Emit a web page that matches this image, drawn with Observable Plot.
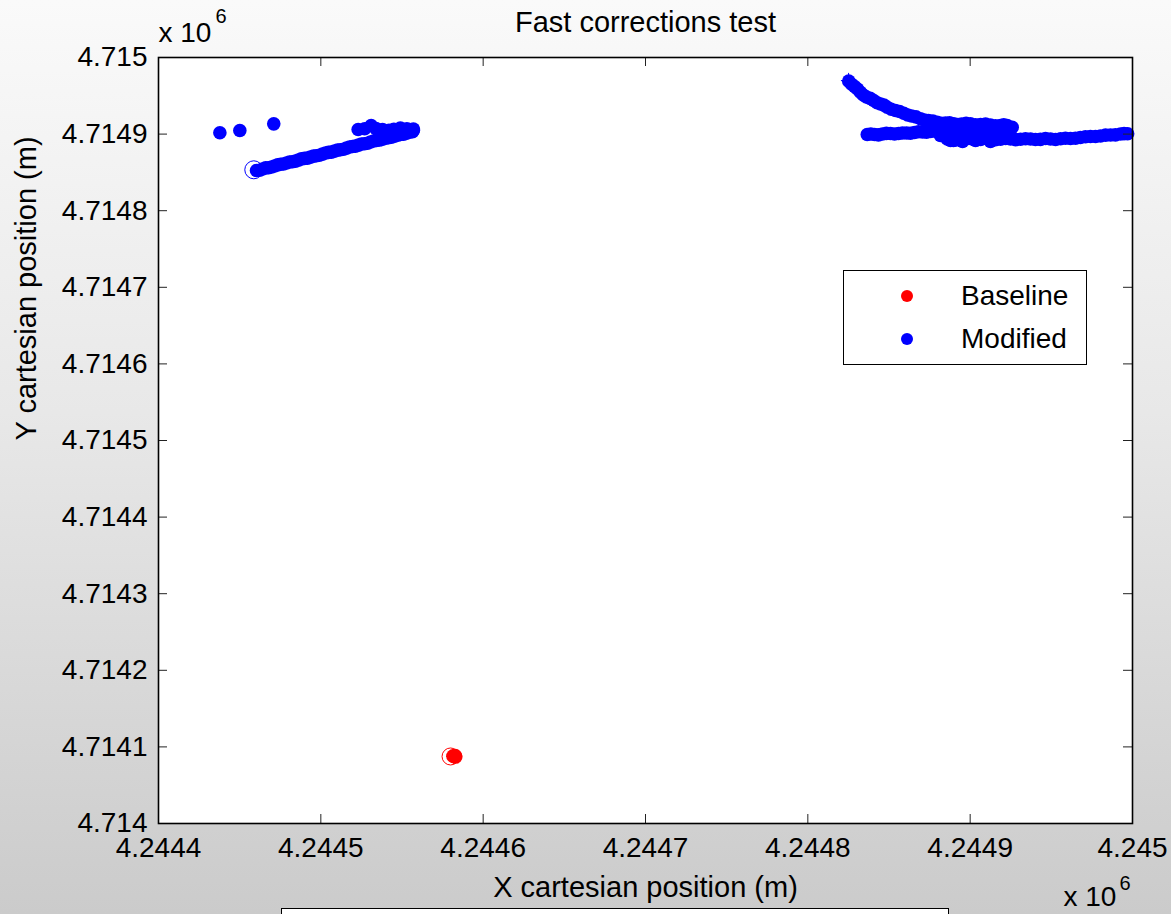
<!DOCTYPE html>
<html>
<head>
<meta charset="utf-8">
<script src="https://cdn.jsdelivr.net/npm/d3@7"></script>
<script src="https://cdn.jsdelivr.net/npm/@observablehq/plot@0.6"></script>
<style>
  html, body { margin: 0; padding: 0; overflow: hidden; }
  #wrap { position: relative; width: 1171px; height: 914px; overflow: hidden;
    background: linear-gradient(to bottom, #fafafa 0%, #e8e8e8 45%, #cbcbcb 100%);
    font-family: "Liberation Sans", Arial, Helvetica, sans-serif; }
  #legend { position: absolute; left: 843px; top: 270px; width: 242px; height: 93px;
    background: white; border: 1px solid black; }
  .lg-dot { position: absolute; width: 12px; height: 12px; border-radius: 50%; }
  .lg-txt { position: absolute; font-size: 28px; color: black; line-height: 1; }
  #bottombox { position: absolute; left: 281px; top: 908px; width: 666px; height: 30px;
    background: white; border: 1.5px solid black; }
</style>
</head>
<body>
<div id="wrap"></div>
<script>
// ---- Data (meters, ECEF cartesian) ----
const title = "Fast corrections test";
const xLabel = "X cartesian position (m)";
const yLabel = "Y cartesian position (m)";
const xTicks = [4244400, 4244500, 4244600, 4244700, 4244800, 4244900, 4245000];
const yTicks = [4714000, 4714100, 4714200, 4714300, 4714400, 4714500, 4714600, 4714700, 4714800, 4714900, 4715000];
const seriesNames = ["Baseline", "Modified"];
const seriesColors = ["#ff0000", "#0000ff"];

// Baseline (red) fixes
const baselinePoints = [
  [4244582.3, 4714087.5], [4244583.0, 4714087.0], [4244581.5, 4714088.0], [4244582.8, 4714088.3]
];
const baselineStart = [[4244579.9, 4714087.5]];
const baselineEnd = [[4244581.9, 4714087.5]];

// Modified (blue) fixes: west cluster
const modifiedIsolated = [
  [4244437.8, 4714901.7], [4244450.1, 4714904.7], [4244471.0, 4714913.4]
];
const modifiedWestTrail = [
  [4244460.4, 4714852.5], [4244464.1, 4714854.4], [4244467.8, 4714856.1], [4244471.5, 4714858.3],
  [4244475.2, 4714860.6], [4244478.9, 4714862.3], [4244482.5, 4714864.0], [4244486.2, 4714866.1],
  [4244489.9, 4714868.3], [4244493.6, 4714870.0], [4244497.3, 4714871.7], [4244501.0, 4714873.9],
  [4244504.7, 4714876.1], [4244508.4, 4714877.8], [4244512.1, 4714879.5], [4244515.8, 4714881.7],
  [4244519.5, 4714883.9], [4244523.2, 4714885.6], [4244526.9, 4714887.4], [4244530.6, 4714889.6],
  [4244534.3, 4714891.8], [4244538.0, 4714893.5], [4244541.7, 4714895.2], [4244545.4, 4714897.3],
  [4244549.1, 4714899.6], [4244552.8, 4714901.2], [4244556.5, 4714903.1], [4244557.0, 4714906.5],
  [4244462.3, 4714852.9], [4244466.0, 4714855.9], [4244469.7, 4714857.0], [4244473.4, 4714859.8],
  [4244477.0, 4714861.0], [4244480.7, 4714863.6], [4244484.4, 4714864.7], [4244488.0, 4714867.6],
  [4244491.8, 4714868.7], [4244495.5, 4714871.3], [4244499.1, 4714872.4], [4244502.9, 4714875.3],
  [4244506.5, 4714876.5], [4244510.3, 4714879.1], [4244514.0, 4714880.2], [4244517.7, 4714883.1],
  [4244521.3, 4714884.3], [4244525.0, 4714887.0], [4244528.8, 4714888.0], [4244532.5, 4714891.0],
  [4244536.1, 4714892.2], [4244539.9, 4714894.8], [4244543.5, 4714895.9], [4244547.3, 4714898.7],
  [4244551.0, 4714900.0], [4244554.6, 4714902.6]
];
const modifiedWestUpper = [
  [4244523.0, 4714906.0], [4244527.0, 4714907.0], [4244531.0, 4714911.0], [4244534.0, 4714907.2],
  [4244538.0, 4714906.0], [4244542.0, 4714905.1], [4244545.0, 4714906.2], [4244549.0, 4714908.0],
  [4244553.0, 4714907.0], [4244557.0, 4714905.0]
];
const modifiedWestStart = [[4244458.7, 4714853.4]];

// Modified (blue) fixes: east cluster
const modifiedEastCurve = [
  [4244825.2, 4714969.1], [4244828.8, 4714962.1], [4244832.4, 4714954.7], [4244836.1, 4714948.4],
  [4244840.6, 4714943.9], [4244844.8, 4714939.3], [4244848.9, 4714935.1], [4244854.0, 4714930.8],
  [4244859.1, 4714927.3], [4244863.9, 4714923.6], [4244869.4, 4714920.0], [4244874.3, 4714917.8],
  [4244879.7, 4714915.5], [4244884.8, 4714914.5], [4244889.9, 4714913.5], [4244894.7, 4714913.2],
  [4244900.2, 4714913.5], [4244906.4, 4714912.5], [4244912.5, 4714911.9], [4244918.7, 4714911.2],
  [4244922.8, 4714911.2],
  [4244827.0, 4714965.0], [4244830.6, 4714958.9], [4244834.2, 4714951.0], [4244838.4, 4714946.6],
  [4244842.7, 4714941.0], [4244846.9, 4714937.9], [4244851.4, 4714932.5], [4244856.5, 4714929.5],
  [4244861.5, 4714925.0], [4244866.6, 4714922.5], [4244871.8, 4714918.4], [4244877.0, 4714917.0],
  [4244882.2, 4714914.2], [4244887.3, 4714914.6], [4244892.3, 4714912.4], [4244897.5, 4714914.0],
  [4244903.3, 4714912.0], [4244909.5, 4714913.0], [4244915.6, 4714910.8], [4244920.7, 4714912.2]
];
const modifiedEastUpperBand = [
  [4244836.6, 4714899.5], [4244841.1, 4714899.5], [4244846.0, 4714900.1], [4244850.9, 4714900.8],
  [4244855.9, 4714900.8], [4244860.8, 4714901.4], [4244865.7, 4714902.1], [4244870.6, 4714902.7],
  [4244875.6, 4714903.4], [4244880.5, 4714904.7],
  [4244838.8, 4714900.2], [4244843.5, 4714899.0], [4244848.4, 4714901.0], [4244853.4, 4714900.2],
  [4244858.3, 4714901.5], [4244863.2, 4714901.2], [4244868.1, 4714903.0], [4244873.1, 4714902.4],
  [4244878.0, 4714904.2]
];
const modifiedEastKnot = [
  [4244887.9, 4714907.3], [4244894.1, 4714909.9], [4244903.3, 4714907.3], [4244912.5, 4714908.6],
  [4244918.7, 4714906.0], [4244923.6, 4714907.3], [4244885.4, 4714899.5], [4244891.0, 4714896.9],
  [4244897.1, 4714899.5], [4244908.0, 4714903.0], [4244915.0, 4714902.0], [4244921.0, 4714904.0],
  [4244900.0, 4714903.0], [4244889.7, 4714891.6], [4244925.9, 4714909.0],
  [4244884.8, 4714911.2], [4244891.0, 4714904.7], [4244897.1, 4714907.3], [4244903.3, 4714900.8],
  [4244909.5, 4714903.4], [4244915.6, 4714900.8], [4244921.8, 4714903.4], [4244881.7, 4714898.2],
  [4244887.9, 4714891.6], [4244895.3, 4714890.3], [4244903.3, 4714891.6], [4244912.5, 4714890.3],
  [4244918.7, 4714896.9], [4244924.9, 4714906.0]
];
const modifiedEastLowerBand = [
  [4244885.9, 4714893.6], [4244891.0, 4714892.3], [4244895.9, 4714893.1], [4244901.4, 4714893.6],
  [4244906.4, 4714893.0], [4244912.5, 4714893.6], [4244918.7, 4714893.2], [4244924.9, 4714893.6],
  [4244931.0, 4714893.3], [4244937.2, 4714893.6], [4244943.3, 4714893.1], [4244949.5, 4714893.6],
  [4244955.7, 4714893.9], [4244961.8, 4714894.3], [4244967.9, 4714895.6], [4244974.1, 4714896.9],
  [4244980.3, 4714897.5], [4244986.5, 4714898.8], [4244992.6, 4714900.1], [4244997.0, 4714900.5],
  [4244888.5, 4714894.5], [4244893.4, 4714892.8], [4244898.6, 4714894.2], [4244903.9, 4714892.6],
  [4244909.5, 4714894.3], [4244915.6, 4714892.7], [4244921.8, 4714894.2], [4244928.0, 4714892.8],
  [4244934.1, 4714894.0], [4244940.2, 4714892.9], [4244946.4, 4714894.2], [4244952.6, 4714893.0],
  [4244958.7, 4714894.5], [4244964.9, 4714894.6], [4244971.0, 4714896.6], [4244977.2, 4714896.8],
  [4244983.4, 4714898.6], [4244989.5, 4714899.0], [4244994.8, 4714900.6]
];
const modifiedEastEnd = [[4244825.1, 4714969.9]];

// ---- Layout ----
const W = 1171, H = 914;
const mL = 158, mR = 39, mT = 57, mB = 91;
const plotW = W - mL - mR, plotH = H - mT - mB;
const tickLen = 9;
const FONT = "'Liberation Sans', Arial, Helvetica, sans-serif";
const fmt = d => String(+(d / 1e6).toFixed(4));

const modifiedAll = [...modifiedIsolated, ...modifiedWestTrail, ...modifiedWestUpper,
  ...modifiedEastCurve, ...modifiedEastUpperBand, ...modifiedEastKnot, ...modifiedEastLowerBand];

const chart = Plot.plot({
  width: W, height: H,
  marginLeft: mL, marginRight: mR, marginTop: mT, marginBottom: mB,
  style: { background: "transparent", fontFamily: FONT, fontSize: "28px", color: "black", overflow: "visible" },
  x: { domain: [4244400, 4245000], label: null },
  y: { domain: [4714000, 4715000], label: null },
  marks: [
    Plot.frame({ fill: "white", stroke: null }),
    // Baseline
    Plot.dot(baselinePoints, { x: d => d[0], y: d => d[1], r: 7, fill: seriesColors[0], stroke: null }),
    Plot.dot(baselineStart, { x: d => d[0], y: d => d[1], r: 8.5, stroke: seriesColors[0], strokeWidth: 1, fill: "none" }),
    Plot.dot(baselineEnd, { x: d => d[0], y: d => d[1], r: 5, symbol: "plus", stroke: seriesColors[0], strokeWidth: 1, fill: "none" }),
    // Modified
    Plot.dot(modifiedAll, { x: d => d[0], y: d => d[1], r: 6.8, fill: seriesColors[1], stroke: null }),
    Plot.dot(modifiedWestStart, { x: d => d[0], y: d => d[1], r: 9, stroke: seriesColors[1], strokeWidth: 1, fill: "none" }),
    Plot.dot(modifiedEastEnd, { x: d => d[0], y: d => d[1], r: 5, symbol: "plus", stroke: seriesColors[1], strokeWidth: 1, fill: "none" }),
    // Inward ticks on all four sides
    Plot.tickX(xTicks, { x: d => d, insetTop: plotH - tickLen, stroke: "#222", strokeWidth: 1 }),
    Plot.tickX(xTicks, { x: d => d, insetBottom: plotH - tickLen, stroke: "#222", strokeWidth: 1 }),
    Plot.tickY(yTicks, { y: d => d, insetRight: plotW - tickLen, stroke: "#222", strokeWidth: 1 }),
    Plot.tickY(yTicks, { y: d => d, insetLeft: plotW - tickLen, stroke: "#222", strokeWidth: 1 }),
    Plot.axisX(xTicks, { tickSize: 0, tickPadding: 14, tickFormat: fmt, fontSize: 28, label: null }),
    Plot.axisY(yTicks, { tickSize: 0, tickPadding: 11, tickFormat: fmt, fontSize: 28, label: null }),
    Plot.frame({ stroke: "black", strokeWidth: 1.6, fill: "none" }),
    // Title and axis labels
    Plot.text([title], { text: d => d, frameAnchor: "top", lineAnchor: "middle", dy: -35, fontSize: 29, fill: "black" }),
    Plot.text([xLabel], { text: d => d, frameAnchor: "bottom", lineAnchor: "middle", dy: 64, fontSize: 29, fill: "black" }),
    Plot.text([yLabel], { text: d => d, frameAnchor: "left", lineAnchor: "middle", dx: -132, rotate: -90, fontSize: 29, fill: "black" }),
    // Exponent annotations
    Plot.text(["x 10"], { text: d => d, frameAnchor: "top-left", lineAnchor: "middle", textAnchor: "start", dx: 0, dy: -24, fontSize: 28, fill: "black" }),
    Plot.text(["6"], { text: d => d, frameAnchor: "top-left", lineAnchor: "middle", textAnchor: "start", dx: 57, dy: -41, fontSize: 20, fill: "black" }),
    Plot.text(["x 10"], { text: d => d, frameAnchor: "bottom-right", lineAnchor: "middle", textAnchor: "start", dx: -69, dy: 74, fontSize: 28, fill: "black" }),
    Plot.text(["6"], { text: d => d, frameAnchor: "bottom-right", lineAnchor: "middle", textAnchor: "start", dx: -13, dy: 60, fontSize: 20, fill: "black" })
  ]
});

const wrap = document.getElementById("wrap");
wrap.appendChild(chart);

// Legend
const legend = document.createElement("div");
legend.id = "legend";
seriesNames.forEach((name, i) => {
  const dot = document.createElement("div");
  dot.className = "lg-dot";
  dot.style.background = seriesColors[i];
  dot.style.left = (907 - 843 - 6 - 1) + "px";
  dot.style.top = (296 + i * 43 - 270 - 6 - 1) + "px";
  legend.appendChild(dot);
  const t = document.createElement("div");
  t.className = "lg-txt";
  t.textContent = name;
  t.style.left = (961 - 843 - 1) + "px";
  t.style.top = (282 + i * 43 - 270 - 1) + "px";
  legend.appendChild(t);
});
wrap.appendChild(legend);

const bb = document.createElement("div");
bb.id = "bottombox";
wrap.appendChild(bb);
</script>
</body>
</html>
